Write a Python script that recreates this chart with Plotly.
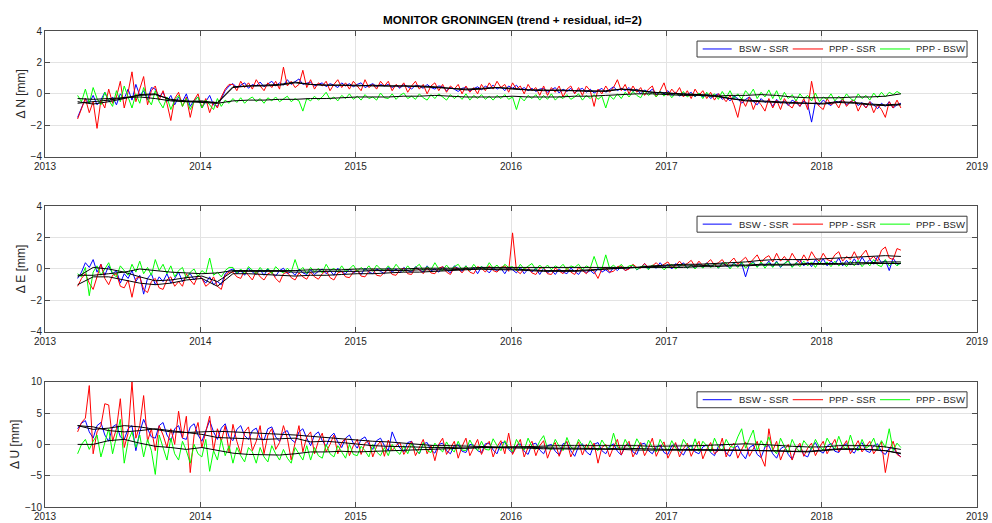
import numpy as np
import plotly.graph_objects as go
from plotly.subplots import make_subplots

# sampling epochs (decimal year): residuals every 0.025 yr, trends every 0.1 yr
t = 2013.21 + 0.025 * np.arange(213)
t_trend = t[::4]

labels = ["BSW - SSR", "PPP - SSR", "PPP - BSW"]
colors = ["#0000ff", "#ff0000", "#00ff00"]

# ---- North ----
n_bsw_ssr = [-1.5, -0.9, -0.3, -0.6, -0.1, -0.7, -0.4, 0.1, -0.5, -0.2, -0.7, 0.0, -0.3, 0.3, -0.4, 0.6, -0.1, 0.2, -0.4, 0.4,
             0.3, -0.2, 0.1, -0.5, -0.1, -0.7, -0.2, -0.5, 0.0, -0.8, -0.4, -0.2, -0.9, -0.5, -0.1, -0.7, -0.8, -0.3, 0.2, 0.5,
             0.65, 0.4, 0.55, 0.7, 0.35, 0.6, 0.5, 0.75, 0.45, 0.6, 0.8, 0.5, 0.7, 0.55, 0.9, 0.6, 0.75, 0.95, 0.6, 0.7,
             0.75, 0.5, 0.6, 0.7, 0.45, 0.65, 0.55, 0.4, 0.7, 0.5, 0.65, 0.45, 0.6, 0.7, 0.4, 0.55, 0.65, 0.45, 0.6, 0.5,
             0.6, 0.4, 0.55, 0.35, 0.6, 0.45, 0.3, 0.55, 0.5, 0.35, 0.6, 0.4, 0.3, 0.5, 0.45, 0.2, 0.4, 0.3, 0.15, 0.35,
             0.4, 0.2, 0.3, 0.45, 0.25, 0.5, 0.35, 0.55, 0.3, 0.45, 0.2, 0.5, 0.35, 0.55, 0.25, 0.4, 0.2, 0.35, 0.15, 0.3,
             0.35, 0.1, 0.25, 0.4, 0.05, 0.3, 0.15, 0.35, 0.05, 0.25, 0.35, 0.1, 0.3, 0.05, 0.2, 0.35, 0.1, 0.3, 0.45, 0.2,
             0.35, 0.2, 0.4, 0.15, 0.3, 0.0, 0.25, 0.1, 0.3, -0.05, 0.15, 0.0, 0.2, -0.1, 0.1, -0.15, 0.05, -0.05, 0.1, -0.2,
             0.05, -0.2, 0.0, -0.3, -0.1, 0.0, -0.35, -0.2, -0.45, -0.15, -0.3, -0.6, -0.35, -0.2, -0.5, -0.7, -0.3, -0.55, -0.4, -0.8,
             -0.35, -0.6, -0.45, -0.75, -0.4, -0.55, -0.8, -0.45, -0.65, -1.8, -0.5, -0.7, -0.4, -0.6, -0.75, -0.45, -0.55, -0.35, -0.7, -0.5,
             -0.4, -0.75, -0.55, -0.9, -0.5, -0.7, -0.95, -0.6, -0.8, -0.5, -0.9, -0.7, -0.6]
n_ppp_ssr = [-1.6, -0.9, -0.3, -1.2, -0.5, -2.2, -0.4, -0.9, 0.3, -0.6, -0.2, 0.8, -0.9, 0.1, 1.4, -0.5, 0.3, 1.1, -0.7, 0.2,
             0.5, -0.4, 0.2, -0.6, -1.7, -0.3, 0.1, -0.8, -0.2, -1.5, -0.4, 0.0, -0.9, -0.3, -1.2, -0.5, -0.9, -0.2, 0.3, 0.6,
             0.6, 0.2, 0.8, 0.4, 0.7, 0.3, 0.9, 0.5, 0.2, 0.7, 0.4, 0.8, 0.3, 1.7, 0.5, 0.8, 0.4, 0.6, 1.5, 0.4,
             0.9, 0.3, 0.7, 0.5, 0.8, 0.2, 0.6, 0.9, 0.4, 0.7, 0.3, 0.8, 0.5, 0.2, 0.9, 0.4, 0.6, 0.3, 0.8, 0.5,
             0.8, 0.2, 0.6, 0.4, 0.7, 0.1, 0.5, 0.8, 0.3, 0.6, 0.0, 0.5, 0.7, 0.2, 0.6, 0.1, 0.5, 0.3, 0.6, 0.0,
             0.5, 0.1, 0.4, 0.0, 0.6, 0.2, 0.7, 0.3, 0.8, 0.4, 0.6, 0.1, 0.7, 0.3, 0.5, 0.0, 0.6, 0.2, 0.4, -0.1,
             0.5, -0.1, 0.4, 0.1, 0.5, -0.2, 0.3, 0.5, 0.0, 0.4, -0.1, 0.5, 0.2, -0.8, 0.3, 0.0, 0.5, 0.1, 0.4, 0.9,
             0.2, 0.6, 0.0, 0.5, 0.1, 0.4, -0.1, 0.3, 0.5, -0.2, 0.2, 0.7, -0.1, 0.3, 0.0, 0.4, -0.2, 0.2, -0.3, 0.3,
             -0.1, 0.2, -0.3, 0.1, -0.4, 0.0, -0.2, -0.5, -0.1, -0.7, -1.5, -0.3, -0.8, -0.2, -1.0, -0.4, -0.7, -1.1, -0.3, -0.9,
             -0.4, -1.0, -0.3, -0.7, -0.9, -0.4, -0.8, -0.3, -1.0, 0.8, -0.5, -0.8, -1.0, -0.3, -0.7, -0.5, -0.9, -0.3, -0.8, -0.5,
             -0.4, -1.1, -0.6, -0.9, -0.5, -1.2, -0.7, -1.0, -1.5, -0.5, -0.9, -0.4, -0.9]
n_ppp_bsw = [-0.1, -0.5, 0.3, -0.6, 0.4, -0.3, -0.7, 0.1, -0.4, -0.8, 0.2, -0.5, 0.5, -0.2, -0.9, 0.0, -0.6, 0.4, -0.3, -0.7,
             0.2, -0.5, -0.9, -0.2, -1.0, -0.4, -0.1, -0.8, -0.3, -1.0, -0.5, -0.2, -0.9, -0.4, -0.7, -1.0, -0.3, -0.8, -0.4, -0.6,
             -0.3, -0.55, -0.25, -0.6, -0.35, -0.2, -0.5, -0.3, -0.6, -0.25, -0.45, -0.2, -0.5, -0.35, -0.15, -0.5, -0.3, -0.45, -1.1, -0.3,
             -0.45, -0.15, -0.4, -0.2, 0.1, -0.35, -0.2, -0.45, -0.1, -0.3, 0.0, -0.35, -0.15, -0.4, -0.05, -0.3, -0.2, -0.4, 0.05, -0.25,
             -0.3, 0.0, -0.35, -0.1, 0.05, -0.3, -0.15, -0.35, 0.0, -0.25, -0.4, -0.05, -0.3, 0.0, -0.2, -0.4, -0.05, -0.3, -0.1, -0.35,
             0.0, -0.4, -0.1, -0.3, -0.05, -0.35, -0.15, -0.4, -0.1, -0.3, -0.05, -0.35, -0.2, -1.0, -0.2, -0.45, -0.1, -0.3, -0.05, -0.4,
             -0.1, -0.35, 0.0, -0.4, -0.15, -0.3, -0.05, -0.35, -0.2, 0.0, -0.4, -0.1, -0.3, -0.05, -0.35, -0.15, -0.9, -0.1, -0.35, 0.0,
             -0.3, 0.1, -0.2, 0.15, -0.1, -0.25, 0.2, -0.1, 0.1, -0.2, 0.15, -0.15, 0.1, -0.25, 0.05, -0.1, 0.15, -0.2, 0.0, -0.15,
             0.05, -0.3, 0.1, -0.2, 0.0, -0.35, 0.15, -0.25, 0.2, -0.3, 0.0, -0.35, 0.2, -0.1, 0.3, -0.3, 0.1, -0.2, 0.25, -0.3,
             0.2, -0.4, 0.1, -0.3, -0.05, -0.45, 0.0, -0.3, -0.1, -0.45, 0.05, -0.5, -0.2, -0.35, 0.0, -0.45, -0.15, -0.4, 0.0, -0.3,
             -0.45, 0.0, -0.3, -0.1, -0.4, 0.05, -0.25, 0.1, -0.2, 0.1, -0.05, 0.15, 0.0]
n_bsw_ssr_trend = [-0.6, -0.5, -0.4, -0.25, -0.1, -0.05, -0.35, -0.45, -0.5, -0.55,
                   0.45, 0.5, 0.55, 0.6, 0.75, 0.6, 0.55, 0.55, 0.55, 0.5,
                   0.5, 0.5, 0.5, 0.45, 0.35, 0.25, 0.3, 0.4, 0.35, 0.25,
                   0.2, 0.25, 0.2, 0.2, 0.15, 0.3, 0.25, 0.1, 0.05, 0.0,
                   -0.05, -0.15, -0.3, -0.4, -0.45, -0.5, -0.55, -0.6, -0.6, -0.5,
                   -0.55, -0.65, -0.7, -0.65]
n_ppp_ssr_trend = [-0.5, -0.65, -0.5, -0.3, -0.05, 0.0, -0.4, -0.5, -0.45, -0.6,
                   0.4, 0.5, 0.5, 0.55, 0.7, 0.6, 0.55, 0.55, 0.5, 0.55,
                   0.5, 0.5, 0.45, 0.4, 0.35, 0.3, 0.35, 0.4, 0.3, 0.25,
                   0.25, 0.2, 0.2, 0.15, 0.2, 0.3, 0.2, 0.1, 0.05, -0.05,
                   -0.05, -0.1, -0.3, -0.45, -0.5, -0.55, -0.6, -0.6, -0.65, -0.55,
                   -0.6, -0.7, -0.75, -0.7]
n_ppp_bsw_trend = [-0.3, -0.35, -0.3, -0.25, -0.2, -0.3, -0.45, -0.5, -0.55, -0.6,
                   -0.45, -0.4, -0.4, -0.35, -0.35, -0.3, -0.3, -0.25, -0.2, -0.2,
                   -0.2, -0.15, -0.15, -0.1, -0.15, -0.2, -0.2, -0.2, -0.15, -0.2,
                   -0.2, -0.2, -0.15, -0.15, -0.1, -0.05, 0.0, 0.0, -0.05, -0.1,
                   -0.1, -0.15, -0.1, -0.1, -0.05, -0.1, -0.2, -0.25, -0.25, -0.25,
                   -0.2, -0.2, -0.15, 0.0]

# ---- East ----
e_bsw_ssr = [-0.6, -0.2, 0.4, 0.1, 0.6, -0.2, 0.3, -0.4, 0.2, -0.3, -0.1, -0.9, -0.3, -0.6, -0.1, -0.8, -0.4, -1.6, -0.6, -0.3,
             -1.0, -0.5, -0.8, -0.3, -0.9, -0.6, -0.2, -0.8, -0.5, -0.3, -0.7, -0.4, -0.6, -0.9, -0.5, -1.0, -0.8, -1.0, -0.3, -0.1,
             0.0, -0.3, -0.1, -0.4, 0.05, -0.2, -0.35, -0.05, -0.4, 0.0, -0.25, -0.45, -0.1, 0.05, -0.3, -0.15, -0.4, 0.0, -0.25, -0.35,
             -0.05, -0.35, -0.15, 0.0, -0.3, -0.1, -0.4, 0.05, -0.2, -0.3, 0.0, -0.25, -0.1, -0.35, 0.05, -0.2, -0.3, 0.0, -0.15, -0.3,
             0.1, -0.2, 0.0, -0.25, 0.1, -0.1, -0.2, 0.15, -0.05, -0.2, 0.2, -0.1, 0.0, -0.2, 0.15, -0.05, -0.25, 0.2, 0.0, -0.15,
             0.2, -0.1, 0.1, -0.3, 0.15, 0.0, -0.25, 0.1, -0.15, 0.05, -0.3, 0.1, -0.05, -0.25, 0.1, -0.3, 0.0, -0.2, 0.05, -0.35,
             0.05, -0.25, -0.05, -0.35, 0.0, -0.2, -0.3, 0.05, -0.15, -0.35, 0.0, -0.25, -0.1, -0.3, 0.05, -0.2, -0.05, -0.25, 0.1, -0.1,
             0.15, -0.1, 0.05, 0.25, -0.05, 0.1, 0.35, 0.0, 0.2, 0.05, 0.4, 0.1, 0.3, 0.0, 0.35, 0.15, 0.4, 0.05, 0.25, 0.1,
             0.35, 0.1, 0.4, 0.15, 0.3, 0.05, 0.4, 0.2, 0.1, 0.4, 0.15, 0.35, -0.5, 0.3, 0.45, 0.15, 0.35, 0.2, 0.5, 0.15,
             0.5, 0.1, 0.35, 0.55, 0.15, 0.4, 0.6, 0.2, 0.45, 0.15, 0.6, 0.3, 0.65, 0.2, 0.5, 0.3, 0.7, 0.2, 0.55, 0.25,
             0.65, 0.25, 0.75, 0.35, 0.6, 0.3, 0.8, 0.4, 0.55, -0.1, 0.7, 0.3, 0.35]
e_ppp_ssr = [-1.1, -0.6, -0.3, -0.9, -1.3, -0.5, 0.3, -0.6, -1.0, -0.4, -0.3, -1.1, -1.2, -0.7, -1.8, -0.6, -0.5, -1.3, -1.5, -0.8,
             -0.6, -1.2, -1.3, -0.7, -0.5, -1.1, -0.8, -1.1, -0.3, -0.7, -1.0, -0.4, -0.6, -1.1, -0.9, -0.5, -1.1, -1.3, -0.4, -0.2,
             -0.2, -0.5, -0.6, -0.1, -0.4, -0.7, -0.15, -0.5, -0.7, -0.3, -0.2, -0.6, -0.85, -0.3, -0.2, -0.55, -0.7, -0.25, -0.5, -0.65,
             -0.2, -0.5, -0.65, -0.3, -0.1, -0.55, -0.7, -0.25, -0.15, -0.5, -0.55, -0.2, -0.05, -0.45, -0.5, -0.15, 0.0, -0.4, -0.45, -0.2,
             0.0, -0.35, -0.4, -0.05, 0.05, -0.3, -0.35, 0.1, -0.05, -0.3, 0.1, -0.25, -0.3, 0.05, 0.15, -0.2, -0.35, 0.1, 0.0, -0.25,
             0.1, -0.2, -0.3, 0.15, 0.05, -0.2, 0.2, -0.1, -0.2, 0.1, 0.2, -0.15, 2.3, -0.1, -0.3, 0.05, 0.1, -0.25, -0.35, 0.05,
             0.1, -0.3, -0.35, 0.05, -0.1, -0.3, 0.05, -0.2, -0.35, 0.1, -0.1, -0.3, 0.05, -0.15, -0.6, 0.0, 0.1, -0.2, -0.15, 0.15,
             0.2, -0.1, 0.0, 0.3, 0.1, 0.05, 0.35, 0.1, 0.2, 0.4, 0.15, 0.3, 0.45, 0.1, 0.2, 0.5, 0.2, 0.35, 0.55, 0.15,
             0.5, 0.2, 0.35, 0.6, 0.25, 0.4, 0.6, 0.2, 0.45, 0.7, 0.3, 0.5, 0.75, 0.35, 0.6, 0.9, 0.4, 0.7, 0.85, 0.45,
             1.0, 0.5, 0.8, 0.45, 1.0, 0.6, 0.4, 0.9, 0.5, 1.1, 0.7, 0.5, 1.0, 0.6, 0.5, 0.9, 1.1, 0.5, 0.8, 0.6,
             1.1, 0.6, 0.9, 1.2, 0.6, 0.8, 0.5, 1.2, 1.4, 0.7, 0.6, 1.3, 1.2]
e_ppp_bsw = [-0.3, -0.5, 0.1, -1.7, -0.2, 0.2, -0.4, 0.0, 0.4, -0.3, -0.5, 0.2, -0.1, -0.4, 0.3, -0.2, 0.5, -0.3, 0.1, -0.4,
             0.6, -0.1, 0.3, -0.3, 0.2, -0.5, -0.1, 0.1, -0.6, -0.2, 0.0, -0.5, -0.1, -0.3, 0.7, -0.4, -0.2, -0.5, -0.1, 0.1,
             0.1, -0.25, 0.0, -0.3, 0.15, -0.1, -0.3, 0.1, -0.2, 0.05, -0.3, 0.15, -0.1, -0.25, 0.05, -0.2, 0.6, -0.15, 0.1, -0.3,
             0.1, -0.2, 0.05, -0.25, 0.3, -0.1, 0.05, -0.2, 0.2, -0.15, 0.0, 0.25, -0.15, 0.1, -0.1, 0.2, -0.15, 0.25, 0.0, -0.1,
             0.2, -0.1, 0.3, 0.0, -0.15, 0.2, -0.1, 0.1, 0.3, -0.1, 0.15, -0.05, 0.4, 0.0, -0.1, 0.25, -0.05, 0.15, 0.3, -0.05,
             0.2, -0.1, 0.3, 0.0, 0.15, -0.05, 0.4, 0.05, 0.25, -0.05, 0.3, 0.1, 0.15, -0.1, 0.3, 0.0, 0.2, 0.35, -0.05, 0.25,
             0.0, 0.25, -0.05, 0.2, 0.05, 0.3, -0.05, 0.2, 0.1, 0.3, -0.05, 0.2, 0.05, 0.8, 0.1, 0.0, 0.9, 0.05, 0.25, 0.0,
             0.3, 0.0, 0.2, 0.25, -0.05, 0.15, 0.2, -0.05, 0.25, 0.1, 0.2, -0.05, 0.15, 0.3, 0.0, 0.2, 0.3, 0.05, 0.25, 0.0,
             0.3, 0.05, 0.35, 0.1, 0.3, 0.05, 0.35, 0.4, 0.0, 0.35, 0.1, 0.45, 0.05, 0.3, 0.4, 0.1, 0.45, 0.05, 0.4, 0.1,
             0.45, 0.15, 0.35, 0.5, 0.1, 0.4, 0.15, 0.5, 0.2, 0.45, 0.1, 0.5, 0.25, 0.45, 0.15, 0.5, 0.2, 0.4, 0.15, 0.5,
             0.2, 0.55, 0.15, 0.45, 0.2, 0.6, 0.25, 0.15, 0.6, 0.2, 0.45, 0.2, 0.4]
e_bsw_ssr_trend = [-0.5, 0.1, 0.0, -0.2, -0.5, -0.75, -0.7, -0.55, -0.45, -0.8,
                   -0.15, -0.15, -0.15, -0.15, -0.2, -0.2, -0.15, -0.15, -0.15, -0.1,
                   -0.1, -0.1, -0.05, -0.05, -0.05, 0.0, 0.0, 0.0, 0.0, -0.05,
                   -0.1, -0.1, -0.1, -0.05, 0.0, 0.05, 0.1, 0.15, 0.2, 0.2,
                   0.2, 0.25, 0.25, 0.25, 0.3, 0.3, 0.3, 0.35, 0.35, 0.35,
                   0.4, 0.4, 0.45, 0.45]
e_ppp_ssr_trend = [-1.0, -0.5, -0.5, -0.7, -0.9, -1.0, -0.9, -0.7, -0.6, -1.1,
                   -0.3, -0.3, -0.35, -0.4, -0.45, -0.4, -0.4, -0.35, -0.3, -0.3,
                   -0.25, -0.2, -0.2, -0.15, -0.1, -0.05, 0.0, -0.05, -0.05, -0.1,
                   -0.15, -0.15, -0.15, -0.1, 0.0, 0.05, 0.1, 0.2, 0.25, 0.3,
                   0.3, 0.35, 0.4, 0.45, 0.55, 0.6, 0.6, 0.6, 0.65, 0.7,
                   0.75, 0.8, 0.85, 0.8]
e_ppp_bsw_trend = [-0.4, -0.4, -0.3, -0.2, 0.0, -0.1, -0.2, -0.25, -0.3, -0.25,
                   -0.1, -0.1, -0.1, -0.1, -0.1, -0.05, -0.05, -0.05, 0.0, 0.0,
                   0.0, 0.0, 0.05, 0.05, 0.05, 0.05, 0.1, 0.1, 0.1, 0.1,
                   0.1, 0.1, 0.1, 0.1, 0.1, 0.1, 0.1, 0.1, 0.1, 0.1,
                   0.15, 0.15, 0.2, 0.2, 0.25, 0.25, 0.25, 0.3, 0.3, 0.3,
                   0.3, 0.35, 0.35, 0.35]

# ---- Up ----
u_bsw_ssr = [2.5, 3.4, 3.8, 2.0, 1.0, 3.0, 3.5, 1.5, 0.5, 2.8, 3.2, 1.2, 0.8, 2.5, 3.0, -1.0, 2.0, 4.0, 2.5, 1.2,
             1.0, 3.0, 3.5, 1.5, 0.5, 2.5, 3.0, 1.0, 0.8, 2.8, 3.3, 1.5, 0.5, 2.2, 3.8, 2.0, 0.8, 2.6, 3.3, 1.2,
             0.6, 2.4, 3.0, 1.4, 0.8, 2.2, 2.6, 1.0, 0.7, 2.5, 2.8, 1.2, 0.5, 1.9, 2.2, 0.8, 0.3, 2.0, 2.5, 1.0,
             -0.2, 1.5, 2.0, 0.6, -0.3, 1.2, 1.8, 0.4, -0.5, 1.0, 1.5, 0.2, -0.6, 0.8, 1.2, 0.0, -0.8, 0.6, 1.0, -0.2,
             -1.0, 2.0, 0.5, -0.6, -1.2, 0.3, 0.5, -0.8, -1.5, 0.1, 0.3, -0.9, -1.4, 0.0, 0.2, -1.0, -1.5, -0.2, 0.0, -1.1,
             -1.3, 0.0, -0.1, -1.0, -1.3, 0.1, 0.2, -0.9, -1.5, 0.2, 0.4, -0.8, -1.4, -0.2, 0.1, -1.1, -1.6, 0.0, 0.2, -0.9,
             -1.5, -0.2, 0.0, -1.1, -1.7, 0.1, 0.3, -1.0, -1.9, -0.3, 0.1, -1.2, -1.7, 0.0, 0.3, -1.0, -1.5, -0.3, 0.1, -1.1,
             -1.7, -0.2, 0.1, -1.2, -1.6, 0.0, 0.2, -1.0, -1.5, -0.4, -0.1, -1.3, -1.6, -0.2, 0.1, -1.1, -1.7, -0.5, -0.2, -1.2,
             -1.5, -0.4, -0.1, -1.3, -1.8, -0.3, 0.0, -1.4, -1.9, -0.6, -0.2, -1.5, -2.3, -0.5, -0.1, -1.6, -2.1, -0.4, -0.2, -1.5,
             -2.2, -0.7, -0.3, -1.6, -2.4, -0.6, -0.2, -1.7, -2.0, -0.5, 0.3, -1.0, -1.4, -0.3, 0.2, -1.1, -1.3, -0.2, 0.1, -0.9,
             -1.4, -0.3, 0.3, -1.0, -1.3, -0.2, 0.1, -1.2, -1.6, -0.6, -0.5, -1.4, -2.0]
u_ppp_ssr = [2.0, 3.5, 4.2, 9.4, -1.5, 2.0, 3.0, 6.5, 6.3, 0.5, 2.5, 7.3, -0.5, 1.8, 10.0, 1.0, 3.0, 7.8, 0.5, 2.5,
             -1.0, 3.0, 1.5, -0.5, 2.5, 0.0, 5.3, 1.0, 4.5, -4.5, 1.5, 3.5, -0.5, 2.0, 4.5, -1.0, 2.5, 0.5, 3.0, -1.2,
             3.2, 0.5, -1.5, 2.0, 2.8, -1.0, 0.5, 3.0, -1.5, 1.5, 2.5, -0.8, 0.3, 3.0, 1.0, -2.5, 0.5, 3.0, -1.2, 1.2,
             2.0, -1.5, 0.5, 1.8, -1.2, 0.0, 1.5, -1.5, 0.3, 1.0, -1.8, -0.2, 0.8, -1.6, 0.2, 0.6, -2.0, -0.3, 0.5, -1.9,
             0.7, -1.0, -0.2, 0.3, -1.6, -0.5, 0.5, -1.8, -0.4, 0.8, -1.5, -0.2, -2.6, 0.0, 1.0, -1.6, -0.6, 0.5, -2.2, -0.3,
             1.0, -1.8, -0.5, 0.8, -1.6, -0.2, 0.5, -2.0, -0.4, 0.6, -1.5, 1.8, -1.6, -0.3, 0.8, -2.0, -0.5, 0.5, -1.8, -0.2,
             0.6, -2.2, -0.5, 0.3, -1.9, -0.3, 0.5, -2.0, -0.6, 0.4, -1.7, 0.0, -0.8, 0.2, -3.0, -0.5, 0.0, -2.0, -0.4, 0.8,
             -1.7, -0.3, 0.5, -2.0, -0.8, 0.3, -1.8, -0.6, 1.0, -1.9, -0.5, 0.4, -2.2, -0.9, 0.3, -2.0, -0.7, 0.2, -1.9, -0.5,
             0.5, -2.3, -0.8, 0.3, -1.5, -1.0, 1.0, -2.0, -0.5, 0.2, -2.2, -0.8, 0.4, -1.9, -0.6, 0.5, -2.0, -3.5, 2.5, -1.0,
             0.5, -2.5, -0.9, 0.0, -2.5, -0.7, 0.2, -1.9, -0.6, 0.2, -1.8, -0.5, 0.5, -1.5, -0.3, 0.8, -1.2, -0.4, 0.6, -1.5,
             -0.5, 0.6, -1.2, -0.3, 0.5, -1.5, -0.6, 0.4, -4.5, -1.0, 0.5, -1.6, -2.0]
u_ppp_bsw = [-1.5, 0.0, 0.8, -0.8, 0.5, 1.5, -2.0, 0.3, 2.5, -1.5, 1.0, 4.0, -3.0, 0.5, 2.0, -0.5, 1.5, -2.0, 0.8, -1.0,
             -4.8, 1.5, -0.5, -2.5, 1.0, -1.5, -2.5, 0.5, -1.0, -3.0, 0.0, -1.5, -2.0, 0.8, -4.3, -1.0, -2.5, 0.8, -1.8, -0.2,
             -3.0, -0.5, -1.8, -2.8, -0.5, -1.2, -3.0, -0.5, -2.0, -2.8, -0.2, -1.5, -2.5, -0.8, -2.2, -3.0, -0.5, -1.4, -2.5, -0.2,
             -2.5, -0.5, -1.8, -2.2, 0.0, -1.5, -2.0, -0.2, -1.2, -2.2, 0.0, -1.6, -1.8, -0.3, -1.0, -2.0, 0.0, -1.2, -1.8, -0.5,
             -1.8, 0.0, -1.0, -1.6, -0.2, -1.5, 0.1, -0.8, -1.5, 0.3, -1.0, -1.3, 0.2, -0.6, -1.2, 0.4, -0.7, -1.2, 0.5, -0.9,
             -1.0, 0.7, -0.4, -1.0, 0.5, -0.8, -0.9, 0.9, -0.2, -1.0, 0.6, -0.5, -1.2, 0.8, -0.3, -0.9, 1.0, -0.4, -0.8, 0.5,
             1.4, -0.6, -0.8, 0.8, -0.3, -1.0, 1.1, -0.4, -0.9, 0.8, -0.2, -0.8, 0.6, -0.5, -1.0, 0.7, -0.3, -0.8, 1.8, -0.4,
             -0.9, 0.8, -0.4, -0.8, 0.9, -0.2, -1.0, 0.7, -0.5, -1.2, 0.8, -0.3, -1.0, 0.6, -0.6, -1.1, 0.8, -0.2, -1.0, 0.9,
             -1.1, 0.5, -0.2, -1.2, 1.0, -0.4, -1.0, 0.8, -0.3, -0.5, 1.2, 2.5, -0.6, 0.9, 2.3, -1.0, 0.6, -0.4, 1.2, -0.8,
             -1.5, 1.0, -0.3, -1.3, 0.8, -0.5, -1.2, 0.6, -0.2, -0.8, 0.8, -0.4, -0.9, 1.0, -0.1, -0.7, 1.3, -0.3, -0.8, 1.5,
             -0.5, -1.0, 0.8, -0.6, -0.2, 1.0, -0.9, 0.6, -0.5, 2.5, -1.0, 0.2, -0.5]
u_bsw_ssr_trend = [3.0, 2.8, 2.2, 2.0, 2.2, 2.5, 2.2, 1.9, 2.0, 2.1,
                   2.0, 1.9, 1.8, 1.7, 1.5, 1.3, 1.1, 0.8, 0.6, 0.5,
                   0.4, 0.2, 0.0, -0.2, -0.2, -0.3, -0.3, -0.4, -0.4, -0.5,
                   -0.5, -0.6, -0.6, -0.7, -0.7, -0.6, -0.7, -0.8, -0.8, -0.8,
                   -0.8, -0.9, -0.9, -0.9, -1.0, -1.1, -1.1, -1.2, -1.0, -0.8,
                   -0.8, -0.8, -1.0, -1.4]
u_ppp_ssr_trend = [3.0, 2.4, 2.6, 3.0, 2.8, 2.4, 2.0, 1.9, 1.6, 1.1,
                   1.0, 0.9, 0.8, 0.9, 1.0, 0.4, 0.5, 0.3, 0.0, -0.2,
                   -0.3, -0.4, -0.5, -0.5, -0.5, -0.6, -0.5, -0.5, -0.5, -0.6,
                   -0.7, -0.7, -0.8, -0.8, -0.8, -0.8, -0.9, -0.9, -1.0, -1.0,
                   -1.0, -1.0, -1.0, -0.9, -0.9, -1.0, -1.1, -1.1, -0.9, -0.7,
                   -0.7, -0.8, -1.0, -1.5]
u_ppp_bsw_trend = [0.0, 0.0, 0.6, 0.8, 0.2, -0.3, -0.5, -0.8, -0.5, -0.9,
                   -1.4, -1.6, -1.6, -1.7, -1.5, -1.2, -1.2, -1.1, -1.2, -1.1,
                   -1.0, -0.9, -0.8, -0.7, -0.6, -0.6, -0.5, -0.5, -0.4, -0.3,
                   -0.3, -0.2, -0.2, -0.2, -0.1, -0.2, -0.2, -0.3, -0.3, -0.3,
                   -0.2, -0.1, 0.0, 0.1, 0.0, -0.2, -0.3, -0.4, -0.4, -0.2,
                   -0.2, -0.2, -0.4, -0.8]

panels = [
    ("\u0394 N [mm]", [n_bsw_ssr, n_ppp_ssr, n_ppp_bsw],
     [n_bsw_ssr_trend, n_ppp_ssr_trend, n_ppp_bsw_trend], [-4, 4], 2),
    ("\u0394 E [mm]", [e_bsw_ssr, e_ppp_ssr, e_ppp_bsw],
     [e_bsw_ssr_trend, e_ppp_ssr_trend, e_ppp_bsw_trend], [-4, 4], 2),
    ("\u0394 U [mm]", [u_bsw_ssr, u_ppp_ssr, u_ppp_bsw],
     [u_bsw_ssr_trend, u_ppp_ssr_trend, u_ppp_bsw_trend], [-10, 10], 5),
]

fig = make_subplots(rows=3, cols=1)

for r, (ytitle, series, trends, yr, dt) in enumerate(panels, start=1):
    for name, col, y in zip(labels, colors, series):
        assert len(y) == len(t), (ytitle, name, len(y))
        fig.add_trace(go.Scatter(x=t, y=y, mode="lines", name=name, showlegend=False,
                                 line=dict(color=col, width=1)),
                      row=r, col=1)
    for y in trends:
        assert len(y) == len(t_trend), (ytitle, len(y))
        fig.add_trace(go.Scatter(x=t_trend, y=y, mode="lines", showlegend=False,
                                 line=dict(color="black", width=1)),
                      row=r, col=1)
    fig.update_xaxes(range=[2013, 2019], dtick=1, tickformat="d", row=r, col=1)
    fig.update_yaxes(range=yr, dtick=dt, title_text=ytitle, row=r, col=1)

    # MATLAB-style boxed legend, one per panel (drawn in axis-domain coordinates)
    sfx = "" if r == 1 else str(r)
    xd, yd = "x%s domain" % sfx, "y%s domain" % sfx
    fig.add_shape(type="rect", xref=xd, yref=yd, x0=0.6996, x1=0.9893, y0=0.793, y1=0.920,
                  line=dict(color="#3a3a3a", width=1), fillcolor="white", layer="above")
    for name, col, lx0, lx1, tx in zip(labels, colors,
                                        [0.7057, 0.8023, 0.8959],
                                        [0.7368, 0.8348, 0.9281],
                                        [0.7432, 0.8398, 0.9331]):
        fig.add_shape(type="line", xref=xd, yref=yd, x0=lx0, x1=lx1, y0=0.857, y1=0.857,
                      line=dict(color=col, width=1), layer="above")
        fig.add_annotation(xref=xd, yref=yd, x=tx, y=0.857, text=name, showarrow=False,
                           xanchor="left", yanchor="middle", borderpad=0,
                           font=dict(size=9.5, color="#262626"))

axis_style = dict(showline=True, linecolor="#4d4d4d", linewidth=1, mirror="ticks",
                  ticks="inside", ticklen=5, tickcolor="#4d4d4d",
                  showgrid=True, gridcolor="#e3e3e3", gridwidth=1, zeroline=False,
                  tickfont=dict(size=10, color="#262626"), automargin=False)
fig.update_xaxes(**axis_style)
fig.update_yaxes(**axis_style, title_font=dict(size=12, color="#262626"), title_standoff=2)

fig.update_layout(
    width=992, height=523,
    margin=dict(l=45, r=15, t=31, b=16),
    paper_bgcolor="white", plot_bgcolor="white",
    font=dict(family="Liberation Sans, Arial, sans-serif"),
    showlegend=False,
    title=dict(text="<b>MONITOR GRONINGEN (trend + residual, id=2)</b>",
               x=0.5165, xanchor="center", y=0.962, yanchor="middle",
               font=dict(size=11.7, color="black")),
    yaxis=dict(domain=[0.736, 1.0]),
    yaxis2=dict(domain=[0.368, 0.632]),
    yaxis3=dict(domain=[0.0, 0.263]),
)

fig.write_html("out.html", config={"displayModeBar": False},
               post_script="document.body.style.margin='0px';")
